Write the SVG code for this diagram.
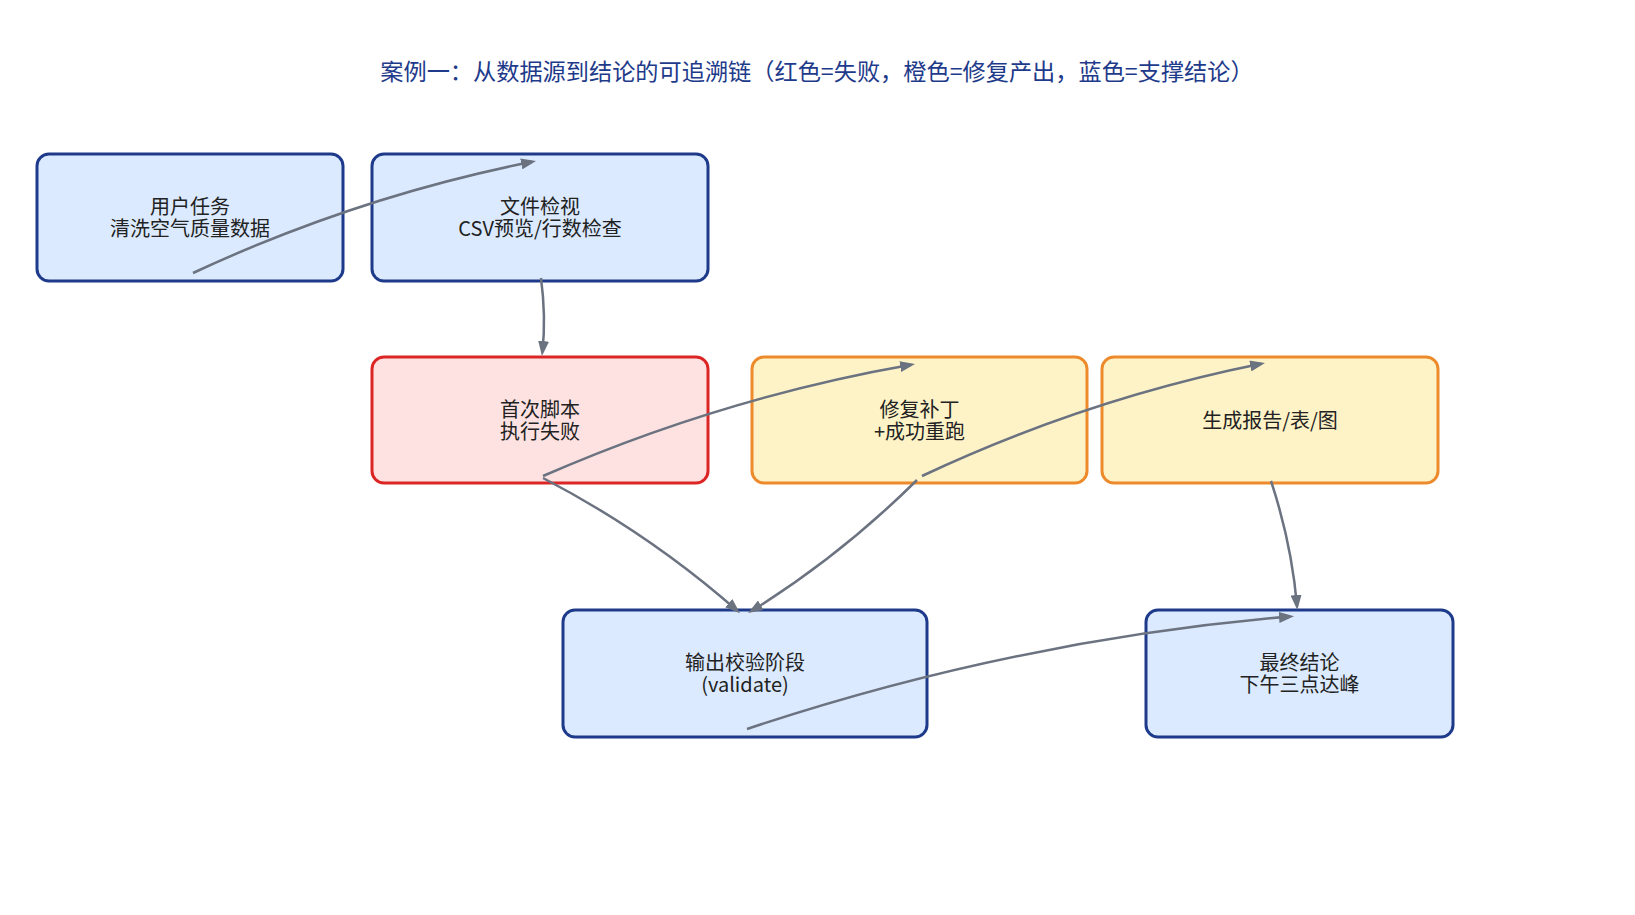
<svg xmlns="http://www.w3.org/2000/svg" width="1635" height="915" viewBox="0 0 1635 915">
<style>
.box{stroke-width:3}
.blue{fill:#dbeafe;stroke:#1e3a8a}
.red{fill:#fee2e2;stroke:#dc2626}
.orange{fill:#fef3c7;stroke:#ed8b2c}
.lbl{font-family:"Noto Sans CJK SC","Noto Sans",sans-serif;font-size:20px;fill:#222;text-anchor:middle;dominant-baseline:central}
.title{font-family:"Noto Sans CJK SC","Noto Sans",sans-serif;font-size:23.2px;fill:#1e3a8a;text-anchor:middle;dominant-baseline:central}
.edge{fill:none;stroke:#6b7280;stroke-width:2.5;marker-end:url(#arr)}
</style>
<defs>
<marker id="arr" viewBox="0 0 15 11" markerWidth="15" markerHeight="11" refX="11" refY="5.5" orient="auto" markerUnits="userSpaceOnUse">
<path d="M0,0 L15,5.5 L0,11 z" fill="#6b7280"/>
</marker>
</defs>
<rect width="1635" height="915" fill="#ffffff"/>
<text class="title" x="817" y="70">案例一：从数据源到结论的可追溯链（红色=失败，橙色=修复产出，蓝色=支撑结论）</text>
<g id="n1"><rect class="box blue" x="37" y="154" width="306" height="127" rx="12"/><text class="lbl" x="190" y="205">用户任务</text><text class="lbl" x="190" y="227">清洗空气质量数据</text></g>
<g id="n2"><rect class="box blue" x="372" y="154" width="336" height="127" rx="12"/><text class="lbl" x="540" y="205">文件检视</text><text class="lbl" x="540" y="227">CSV预览/行数检查</text></g>
<g id="n3"><rect class="box red" x="372" y="357" width="336" height="126" rx="12"/><text class="lbl" x="540" y="408">首次脚本</text><text class="lbl" x="540" y="430">执行失败</text></g>
<g id="n4"><rect class="box orange" x="752" y="357" width="335" height="126" rx="12"/><text class="lbl" x="919.5" y="408">修复补丁</text><text class="lbl" x="919.5" y="430">+成功重跑</text></g>
<g id="n5"><rect class="box orange" x="1102" y="357" width="336" height="126" rx="12"/><text class="lbl" x="1270" y="419">生成报告/表/图</text></g>
<g id="n6"><rect class="box blue" x="563" y="610" width="364" height="127" rx="12"/><text class="lbl" x="745" y="661">输出校验阶段</text><text class="lbl" x="745" y="683">(validate)</text></g>
<g id="n7"><rect class="box blue" x="1146" y="610" width="307" height="127" rx="12"/><text class="lbl" x="1299.5" y="661">最终结论</text><text class="lbl" x="1299.5" y="683">下午三点达峰</text></g>
<g id="connectors">
<path class="edge" d="M193,273 Q357.8,196.4 532.1,161.8"/>
<path class="edge" d="M541,278 Q546.2,317 542.4,352"/>
<path class="edge" d="M543,476 Q722.3,397.7 911.1,364.7"/>
<path class="edge" d="M543,478 Q649,533.2 737,610.5"/>
<path class="edge" d="M917,480 Q840,556.2 751.5,611"/>
<path class="edge" d="M922,476 Q1086.2,398.9 1261.1,363.8"/>
<path class="edge" d="M1271,481 Q1291.7,543.9 1297,606"/>
<path class="edge" d="M747,729 Q1013.3,640.1 1290,616.5"/>
</g>
</svg>
